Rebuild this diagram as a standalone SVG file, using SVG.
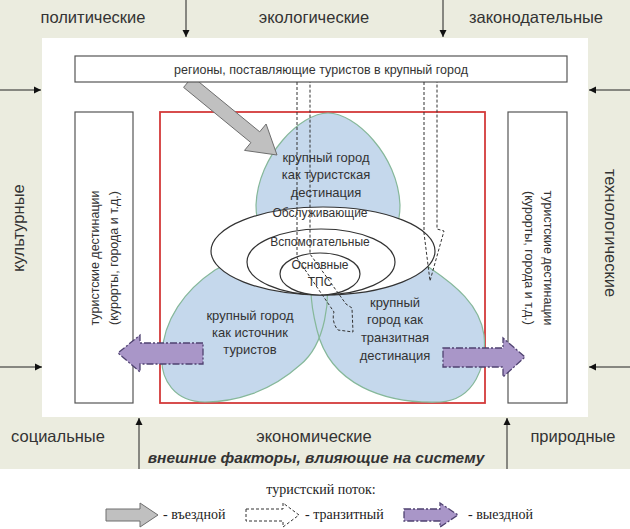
<svg xmlns="http://www.w3.org/2000/svg" width="630" height="529" viewBox="0 0 630 529">
<style>
.lbl{font-family:"Liberation Sans",Arial,sans-serif;font-size:16.5px;fill:#333;text-anchor:middle}
.t{font-family:"Liberation Sans",Arial,sans-serif;font-size:13px;fill:#333;text-anchor:middle}
.te{font-family:"Liberation Sans",Arial,sans-serif;font-size:12px;fill:#333;text-anchor:middle}
.ts{font-family:"Liberation Sans",Arial,sans-serif;font-size:12.5px;fill:#333;text-anchor:middle}
.leg{font-family:"Liberation Serif","Times New Roman",serif;font-size:14px;fill:#222}
.fl{stroke:#222;stroke-width:1;fill:none}
.box{fill:#fff;stroke:#555;stroke-width:1.2}
.petal{fill:#c5d8ec;stroke:none}
.petalo{fill:none;stroke:#86b89a;stroke-width:1.2}
.ell{fill:#fff;stroke:#333;stroke-width:1.2}
.in{fill:#c0c0c0;stroke:#6e6e6e;stroke-width:1}
.tr{fill:none;stroke:#333;stroke-width:1;stroke-dasharray:3,2}
.out{fill:#a996c8;stroke:#4f4270;stroke-width:1.3;stroke-dasharray:7,2,2,2}
</style>
<defs>
<marker id="ah" markerWidth="8" markerHeight="8" refX="7" refY="4" orient="auto" markerUnits="userSpaceOnUse">
<path d="M0,0.5 L7,4 L0,7.5 Z" fill="#111"/>
</marker>
<path id="pt" d="M328,113 C355,113 398,155 400,205 C400,250 360,285 328,285 C296,285 256,250 256,205 C258,155 301,113 328,113 Z"/>
<path id="pl" d="M325,262 C332,300 325,345 300,365 C270,392 235,402 205,402 C175,402 160,380 162,355 C163,320 185,290 215,270 C250,250 300,250 325,262 Z"/>
<path id="pr" d="M320,262 C360,245 410,250 430,268 C455,285 480,305 484,335 C487,365 475,400 440,402 C385,404 330,385 317,330 C312,310 305,275 320,262 Z"/>
</defs>
<rect x="0" y="0" width="630" height="469" fill="#ebecdf"/>
<rect x="42" y="38" width="546" height="379" fill="#fff"/>

<g id="factors">
<text class="lbl" x="93" y="23">политические</text>
<text class="lbl" x="314" y="23">экологические</text>
<text class="lbl" x="536" y="23">законодательные</text>
<text class="lbl" transform="translate(24,228) rotate(-90)">культурные</text>
<text class="lbl" transform="translate(605,233) rotate(90)">технологические</text>
<text class="lbl" x="58" y="442">социальные</text>
<text class="lbl" x="314" y="442">экономические</text>
<text class="lbl" x="573" y="442">природные</text>
<text class="lbl" x="316" y="463" style="font-weight:bold;font-style:italic;font-size:15.5px">внешние факторы, влияющие на систему</text>
</g>

<g id="connectors">
<line class="fl" x1="186" y1="0" x2="186" y2="37" marker-end="url(#ah)"/>
<line class="fl" x1="443" y1="0" x2="443" y2="37" marker-end="url(#ah)"/>
<line class="fl" x1="0" y1="90" x2="41" y2="90" marker-end="url(#ah)"/>
<line class="fl" x1="0" y1="367" x2="42" y2="367" marker-end="url(#ah)"/>
<line class="fl" x1="630" y1="90" x2="589" y2="90" marker-end="url(#ah)"/>
<line class="fl" x1="630" y1="367" x2="589" y2="367" marker-end="url(#ah)"/>
<line class="fl" x1="139" y1="469" x2="139" y2="418" marker-end="url(#ah)"/>
<line class="fl" x1="507" y1="469" x2="507" y2="418" marker-end="url(#ah)"/>
</g>

<rect x="160" y="112" width="325" height="291" fill="none" stroke="#d33a3a" stroke-width="1.8"/>

<g id="petals">
<use href="#pt" class="petal"/>
<use href="#pl" class="petal"/>
<use href="#pr" class="petal"/>
<use href="#pt" class="petalo"/>
<use href="#pl" class="petalo"/>
<use href="#pr" class="petalo"/>
<text class="t" x="326" y="162">крупный город</text>
<text class="t" x="326" y="179">как туристская</text>
<text class="t" x="326" y="197">дестинация</text>
<text class="t" x="250" y="320">крупный город</text>
<text class="t" x="250" y="337">как источник</text>
<text class="t" x="250" y="354">туристов</text>
<text class="t" x="395" y="307">крупный</text>
<text class="t" x="395" y="324">город как</text>
<text class="t" x="395" y="342">транзитная</text>
<text class="t" x="395" y="360">дестинация</text>
</g>

<g id="tps">
<ellipse class="ell" cx="323" cy="251" rx="112" ry="44"/>
<ellipse class="ell" cx="321" cy="262" rx="74" ry="33"/>
<ellipse class="ell" cx="320" cy="274" rx="40" ry="21"/>
<text class="te" x="320" y="217">Обслуживающие</text>
<text class="te" x="320" y="246">Вспомогательные</text>
<text class="te" x="320" y="269">Основные</text>
<text class="te" x="320" y="286">ТПС</text>
</g>

<g id="inbound">
<polygon class="in" points="192.4,76.6 259.7,131.8 266.1,124 277,155 244.5,150.4 250.9,142.6 183.6,87.4"/>
</g>

<g id="regions">
<rect class="box" x="75" y="56" width="492" height="26"/>
<text class="ts" x="321" y="74">регионы, поставляющие туристов в крупный город</text>
</g>

<g id="dest-left">
<rect class="box" x="75" y="112" width="58" height="291"/>
<text class="ts" transform="translate(99,258) rotate(-90)">туристские дестинации</text>
<text class="ts" transform="translate(118,258) rotate(-90)">(курорты, города и т.д.)</text>
</g>
<g id="dest-right">
<rect class="box" x="508" y="112" width="59" height="291"/>
<text class="ts" transform="translate(544,258) rotate(90)">туристские дестинации</text>
<text class="ts" transform="translate(525,258) rotate(90)">(курорты, города и т.д.)</text>
</g>

<g id="transit">
<path class="tr" d="M297,82 V258 L334,312 C332,318 334,326 338,330 L353,332 L352,308 L346,304 L310,254 V82"/>
<path class="tr" d="M424,82 V233 L430,281 L444,231 L437,229 V82"/>
</g>

<g id="outbound">
<polygon class="out" points="203,343 140,343 140,335 118,353 140,372 140,364 203,364"/>
<polygon class="out" points="443,348 503,348 503,338 525,357 503,377 503,367 443,367"/>
</g>

<g id="legend">
<text class="leg" x="321" y="494" text-anchor="middle">туристский поток:</text>
<polygon class="in" points="106,509 140,509 140,503 158,515 140,527 140,521 106,521"/>
<text class="leg" x="163" y="519">- въездной</text>
<polygon class="tr" points="246,509 283,509 283,503 299,515 283,527 283,521 246,521"/>
<text class="leg" x="305" y="519">- транзитный</text>
<polygon class="out" points="404,509 440,509 440,503 458,515 440,527 440,521 404,521"/>
<text class="leg" x="468" y="519">- выездной</text>
</g>
</svg>
